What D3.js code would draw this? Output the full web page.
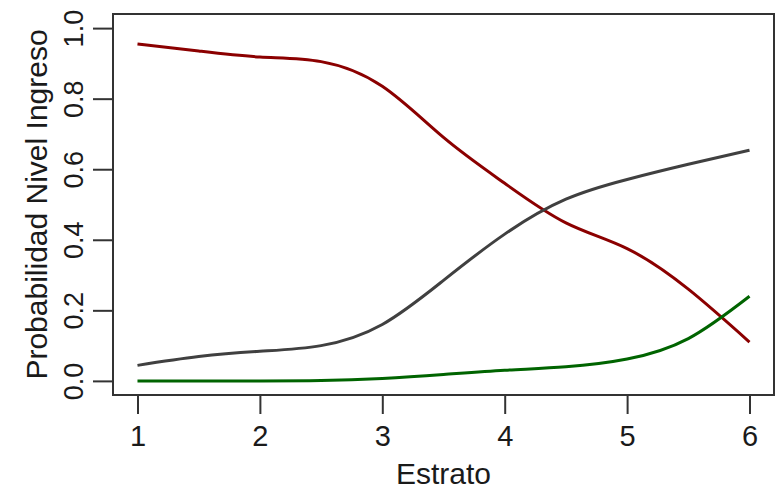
<!DOCTYPE html>
<html lang="es">
<head>
    <meta charset="UTF-8">
    <title>Probabilidad Nivel Ingreso por Estrato</title>
    <script src="https://d3js.org/d3.v7.min.js"></script>
    <style>
        body { margin: 0; background: #fff; }
        text { font-family: "Liberation Sans", Arial, sans-serif; fill: #1a1a1a; }
    </style>
</head>
<body>
    <div id="chart"></div>

    <script>
        // values
        const estrato = [1, 1.5, 2, 2.5, 3, 3.5, 4, 4.5, 5, 5.5, 6];
        const nivelAlto = [0.955, 0.935, 0.918, 0.905, 0.835, 0.69, 0.56, 0.448, 0.375, 0.26, 0.11];
        const nivelMedio = [0.044, 0.069, 0.084, 0.10, 0.16, 0.285, 0.416, 0.515, 0.571, 0.614, 0.654];
        const nivelBajo = [0.0, 0.0, 0.0, 0.001, 0.007, 0.018, 0.03, 0.04, 0.062, 0.12, 0.24];

        const xTicks = [1, 2, 3, 4, 5, 6];
        const yTicks = [0, 0.2, 0.4, 0.6, 0.8, 1.0];

        const series = [
            { values: nivelAlto, color: "#8b0000" },
            { values: nivelMedio, color: "#404040" },
            { values: nivelBajo, color: "#006400" }
        ];

        const width = 775;
        const height = 489;
        const margin = { top: 14, right: 1, bottom: 94, left: 113 };

        // R style: 4% padding around the data range
        const x = d3.scaleLinear()
            .domain([0.8, 6.2])
            .range([margin.left, width - margin.right]);

        const y = d3.scaleLinear()
            .domain([-0.04, 1.04])
            .range([height - margin.bottom, margin.top]);

        const svg = d3.select("#chart").append("svg")
            .attr("width", width)
            .attr("height", height);

        const line = d3.line()
            .x((d, i) => x(estrato[i]))
            .y(d => y(d))
            .curve(d3.curveNatural);

        svg.append("g")
            .selectAll("path")
            .data(series)
            .join("path")
            .attr("d", d => line(d.values))
            .attr("fill", "none")
            .attr("stroke", d => d.color)
            .attr("stroke-width", 3);

        // box
        svg.append("rect")
            .attr("x", x(0.8))
            .attr("y", y(1.04))
            .attr("width", x(6.2) - x(0.8))
            .attr("height", y(-0.04) - y(1.04))
            .attr("fill", "none")
            .attr("stroke", "#333")
            .attr("stroke-width", 2);

        // x axis
        const xAxis = svg.append("g")
            .attr("transform", `translate(0,${y(-0.04)})`)
            .call(d3.axisBottom(x).tickValues(xTicks).tickFormat(d3.format("d")).tickSize(19).tickPadding(8));
        xAxis.select(".domain").remove();
        xAxis.selectAll(".tick line").attr("stroke", "#333").attr("stroke-width", 2);
        xAxis.selectAll(".tick text")
            .attr("y", 51)
            .attr("dy", null)
            .style("font-size", "29px")
            .style("font-family", "'Liberation Sans', Arial, sans-serif")
            .attr("fill", "#1a1a1a");

        // y axis
        const yAxis = svg.append("g")
            .attr("transform", `translate(${x(0.8)},0)`)
            .call(d3.axisLeft(y).tickValues(yTicks).tickFormat(d3.format(".1f")).tickSize(20));
        yAxis.select(".domain").remove();
        yAxis.selectAll(".tick line").attr("stroke", "#333").attr("stroke-width", 2);
        yAxis.selectAll(".tick text")
            .attr("x", null)
            .attr("dy", null)
            .attr("transform", "translate(-30,0) rotate(-90)")
            .attr("text-anchor", "middle")
            .style("font-size", "27px")
            .style("font-family", "'Liberation Sans', Arial, sans-serif")
            .attr("fill", "#1a1a1a");

        // axis titles
        svg.append("text")
            .attr("x", (x(0.8) + x(6.2)) / 2)
            .attr("y", 484)
            .attr("text-anchor", "middle")
            .style("font-size", "30px")
            .text("Estrato");

        svg.append("text")
            .attr("transform", `translate(47,${(y(-0.04) + y(1.04)) / 2}) rotate(-90)`)
            .attr("text-anchor", "middle")
            .style("font-size", "30px")
            .text("Probabilidad Nivel Ingreso");
    </script>
</body>
</html>
